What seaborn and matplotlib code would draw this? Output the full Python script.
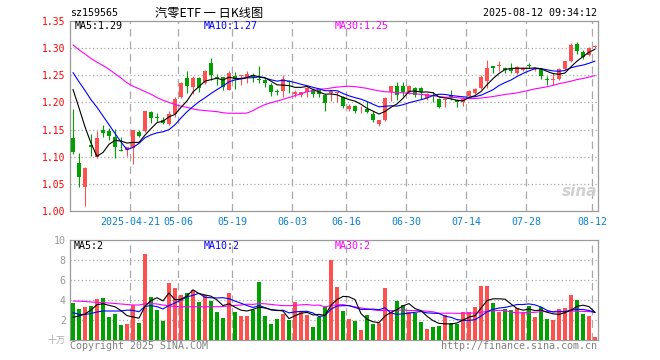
import numpy as np
import pandas as pd
import matplotlib
matplotlib.use("Agg")
import matplotlib.pyplot as plt
import seaborn as sns

# ---------------- data ----------------
open_ = [1.135, 1.089, 1.045, 1.122, 1.099, 1.150, 1.148, 1.136, 1.113, 1.112,
         1.116, 1.146, 1.148, 1.183, 1.173, 1.168, 1.161, 1.179, 1.210, 1.245,
         1.228, 1.245, 1.235, 1.272, 1.246, 1.246, 1.223, 1.248, 1.249, 1.247,
         1.251, 1.243, 1.242, 1.233, 1.2205, 1.221, 1.240, 1.216, 1.214, 1.219,
         1.223, 1.222, 1.214, 1.218, 1.218, 1.210, 1.188, 1.194, 1.191, 1.188,
         1.179, 1.161, 1.167, 1.219, 1.230, 1.230, 1.219, 1.227, 1.227, 1.209,
         1.213, 1.207, 1.2036, 1.2146, 1.204, 1.201, 1.212, 1.218, 1.226, 1.240,
         1.267, 1.268, 1.263, 1.263, 1.254, 1.260, 1.269, 1.262, 1.261, 1.243,
         1.242, 1.243, 1.262, 1.276, 1.308, 1.293, 1.287, 1.302]
high = [1.188, 1.107, 1.081, 1.142, 1.148, 1.159, 1.153, 1.151, 1.136, 1.118,
        1.150, 1.149, 1.185, 1.185, 1.181, 1.173, 1.185, 1.210, 1.237, 1.258,
        1.248, 1.247, 1.259, 1.281, 1.253, 1.247, 1.258, 1.256, 1.251, 1.258,
        1.255, 1.267, 1.245, 1.235, 1.225, 1.250, 1.241, 1.222, 1.220, 1.229,
        1.226, 1.223, 1.216, 1.222, 1.220, 1.211, 1.198, 1.196, 1.194, 1.203,
        1.184, 1.168, 1.210, 1.230, 1.238, 1.238, 1.232, 1.229, 1.229, 1.217,
        1.2195, 1.208, 1.206, 1.2225, 1.207, 1.210, 1.223, 1.226, 1.250, 1.278,
        1.267, 1.276, 1.266, 1.272, 1.268, 1.265, 1.272, 1.266, 1.263, 1.249,
        1.254, 1.263, 1.277, 1.310, 1.312, 1.296, 1.302, 1.305]
low = [1.105, 1.045, 1.010, 1.102, 1.098, 1.137, 1.130, 1.098, 1.110, 1.102,
       1.086, 1.136, 1.146, 1.162, 1.164, 1.160, 1.158, 1.174, 1.209, 1.217,
       1.216, 1.220, 1.234, 1.242, 1.233, 1.222, 1.222, 1.225, 1.232, 1.235,
       1.238, 1.236, 1.229, 1.212, 1.213, 1.210, 1.218, 1.210, 1.210, 1.210,
       1.210, 1.210, 1.185, 1.203, 1.201, 1.189, 1.185, 1.180, 1.180, 1.180,
       1.164, 1.157, 1.166, 1.202, 1.205, 1.212, 1.216, 1.210, 1.207, 1.205,
       1.201, 1.189, 1.192, 1.204, 1.192, 1.194, 1.211, 1.216, 1.224, 1.227,
       1.254, 1.257, 1.255, 1.254, 1.252, 1.258, 1.263, 1.258, 1.243, 1.232,
       1.232, 1.242, 1.260, 1.275, 1.290, 1.280, 1.285, 1.300]
close = [1.108, 1.063, 1.080, 1.118, 1.135, 1.143, 1.138, 1.117, 1.111, 1.117,
         1.149, 1.138, 1.184, 1.171, 1.172, 1.162, 1.178, 1.207, 1.236, 1.231,
         1.245, 1.227, 1.257, 1.250, 1.244, 1.228, 1.254, 1.244, 1.251, 1.253,
         1.247, 1.242, 1.235, 1.219, 1.219, 1.244, 1.238, 1.219, 1.219, 1.227,
         1.216, 1.215, 1.199, 1.221, 1.219, 1.193, 1.194, 1.185, 1.192, 1.182,
         1.167, 1.167, 1.209, 1.230, 1.213, 1.219, 1.230, 1.214, 1.2185, 1.215,
         1.2116, 1.191, 1.2055, 1.210, 1.201, 1.207, 1.221, 1.224, 1.247, 1.264,
         1.263, 1.269, 1.260, 1.257, 1.266, 1.263, 1.268, 1.264, 1.249, 1.242,
         1.243, 1.261, 1.276, 1.306, 1.295, 1.284, 1.301, 1.304]
volume = [3.73, 3.1, 3.3, 3.43, 4.1, 4.2, 2.3, 2.6, 1.5, 1.6,
          3.5, 1.73, 8.6, 4.3, 3.0, 1.93, 5.7, 5.2, 4.5, 4.7,
          5.0, 3.8, 4.5, 3.9, 2.8, 2.2, 4.7, 2.8, 2.4, 2.4,
          3.0, 5.8, 2.4, 1.6, 2.1, 2.6, 2.0, 3.8, 2.9, 2.5,
          1.3, 2.3, 3.3, 8.0, 5.3, 2.9, 2.1, 1.9, 1.0, 2.5,
          1.6, 1.7, 5.2, 2.8, 3.9, 3.5, 2.8, 2.7, 1.8, 1.1,
          1.3, 1.4, 2.5, 1.7, 1.6, 2.8, 2.8, 3.3, 5.4, 5.4,
          3.7, 2.8, 3.1, 3.0, 3.2, 2.8, 3.4, 2.3, 3.3, 2.1,
          2.0, 3.1, 3.2, 4.5, 4.0, 2.6, 2.4, 0.3]

# moving-average values at the start of the window (need earlier history)
ma5_head = [1.224, 1.190, 1.155, 1.125]
ma10_head = [1.255, 1.238, 1.222, 1.205, 1.191, 1.175, 1.159, 1.143, 1.127]
ma30_head = [1.306, 1.297, 1.289, 1.281, 1.274, 1.268, 1.261, 1.253, 1.245, 1.236,
             1.230, 1.225, 1.220, 1.215, 1.209, 1.204, 1.200, 1.196, 1.193, 1.191,
             1.188, 1.186, 1.185, 1.184, 1.183, 1.181, 1.180, 1.180, 1.180]
vma5_head = [2.27, 2.4, 2.6, 3.0]
vma10_head = [2.75, 2.55, 2.55, 2.65, 2.8, 2.9, 2.9, 2.9, 2.9]
vma30_head = [3.9, 3.88, 3.85, 3.8, 3.77, 3.73, 3.7, 3.65, 3.6, 3.55,
              3.5, 3.5, 3.62, 3.65, 3.6, 3.5, 3.4, 3.35, 3.33, 3.33,
              3.33, 3.33, 3.33, 3.33, 3.33, 3.35, 3.4, 3.45, 3.5]

start_date = "2025-04-07"
end_date = "2025-08-12"
holidays = ["2025-05-01", "2025-05-02", "2025-05-05", "2025-06-02"]
tick_dates = ["2025-04-21", "2025-05-06", "2025-05-19", "2025-06-03", "2025-06-16",
              "2025-06-30", "2025-07-14", "2025-07-28", "2025-08-12"]
tick_labels = ["2025-04-21", "05-06", "05-19", "06-03", "06-16",
               "06-30", "07-14", "07-28", "08-12"]
price_ticks = [1.00, 1.05, 1.10, 1.15, 1.20, 1.25, 1.30, 1.35]
vol_ticks = [2, 4, 6, 8, 10]

symbol = "sz159565"
title = "汽零ETF 一 日K线图"
timestamp = "2025-08-12 09:34:12"
price_ma_labels = ["MA5:1.29", "MA10:1.27", "MA30:1.25"]
vol_ma_labels = ["MA5:2", "MA10:2", "MA30:2"]
vol_unit = "十万"

# ---------------- derived ----------------
dates = pd.bdate_range(start_date, end_date)
dates = dates[~dates.isin(pd.to_datetime(holidays))]
n = len(close)
idx = np.arange(n)
o = np.array(open_); h = np.array(high); l = np.array(low); c = np.array(close)
v = np.array(volume)
cs = pd.Series(c); vs = pd.Series(v)


def ma(series, w, head):
    m = series.rolling(w).mean().to_numpy()
    m[:len(head)] = head
    return m


ma5 = ma(cs, 5, ma5_head); ma10 = ma(cs, 10, ma10_head); ma30 = ma(cs, 30, ma30_head)
vma5 = ma(vs, 5, vma5_head); vma10 = ma(vs, 10, vma10_head); vma30 = ma(vs, 30, vma30_head)
tick_idx = [dates.get_loc(pd.Timestamp(d)) for d in tick_dates]

RED = "#ff5050"
GREEN = "#00a000"
GRID = "#aaaaaa"
FRAME = "#9a9a9a"
BLUE = "#0000ff"
MAG = "#ff00ff"
TICKBLUE = "#0a82cc"
up = c >= o
colors = np.where(up, RED, GREEN)

# ---------------- figure ----------------
sns.set_theme(style="white")
plt.rcParams["font.family"] = ["DejaVu Sans Mono", "Noto Sans CJK SC"]
W, H = 660, 360
fig = plt.figure(figsize=(W / 100, H / 100), dpi=100)


def rect(lft, top, rgt, bot):
    return [lft / W, 1 - bot / H, (rgt - lft) / W, (bot - top) / H]


ax = fig.add_axes(rect(70, 21, 598, 211))
axv = fig.add_axes(rect(70, 240, 598, 340))

# candles
ax.vlines(idx, l, h, colors=colors, lw=0.8, zorder=3)
body_lo = np.minimum(o, c)
body_h = np.maximum(np.abs(c - o), 0.0009)
ax.bar(idx, body_h, bottom=body_lo, width=0.75, color=colors, linewidth=0, zorder=4)

# price MAs
sns.lineplot(x=idx, y=ma30, ax=ax, color=MAG, linewidth=0.8, zorder=5)
sns.lineplot(x=idx, y=ma10, ax=ax, color=BLUE, linewidth=0.8, zorder=5)
sns.lineplot(x=idx, y=ma5, ax=ax, color="black", linewidth=0.8, zorder=6)

# volume
vdf = pd.DataFrame({"i": idx, "vol": v, "dir": np.where(up, "up", "down")})
sns.barplot(data=vdf, x="i", y="vol", hue="dir", palette={"up": RED, "down": GREEN},
            dodge=False, legend=False, width=0.83, saturation=1, ax=axv,
            native_scale=True, linewidth=0, zorder=3)
sns.lineplot(x=idx, y=vma30, ax=axv, color=MAG, linewidth=0.8, zorder=5)
sns.lineplot(x=idx, y=vma10, ax=axv, color=BLUE, linewidth=0.8, zorder=5)
sns.lineplot(x=idx, y=vma5, ax=axv, color="black", linewidth=0.8, zorder=6)

for a in (ax, axv):
    a.set_xlim(-0.5, n - 0.5)
    a.set_xlabel(""); a.set_ylabel("")
    for s in a.spines.values():
        s.set_color(FRAME); s.set_linewidth(0.9); s.set_visible(True)
    a.tick_params(length=0)
    for t in tick_idx:
        a.axvline(t - 0.5, color=GRID, lw=0.9, ls=(0, (6, 4)), zorder=1)

ax.set_ylim(1.00, 1.35)
ax.set_yticks(price_ticks)
ax.set_yticklabels([f"{p:.2f}" for p in price_ticks], color="#ff0000", fontsize=7)
ax.tick_params(axis="y", pad=3)
for p in price_ticks[1:-1]:
    ax.axhline(p, color=GRID, lw=0.9, ls=(0, (1, 2)), zorder=1)
ax.set_xticks([t - 0.5 for t in tick_idx])
ax.set_xticklabels(tick_labels, color=TICKBLUE, fontsize=7.2)
ax.tick_params(axis="x", pad=4)

axv.set_ylim(0, 10)
axv.set_yticks(vol_ticks)
axv.set_yticklabels([str(t) for t in vol_ticks], color="#999999", fontsize=7.2)
axv.tick_params(axis="y", pad=3)
for t in vol_ticks[:-1]:
    axv.axhline(t, color=GRID, lw=0.9, ls=(0, (1, 2)), zorder=1)
axv.set_xticks([])


def ftext(x, y, s, **kw):
    fig.text(x / W, 1 - y / H, s, **kw)


ftext(70, 13, symbol, fontsize=7.2, color="black", va="center", ha="left")
ftext(209, 13, title, fontsize=8.8, color="black", va="center", ha="center",
      family=["Noto Sans CJK SC", "DejaVu Sans Mono"])
ftext(597, 13, timestamp, fontsize=7.2, color="black", va="center", ha="right")
for xpos, s, col in zip([75, 204, 335], price_ma_labels, ["black", BLUE, MAG]):
    ftext(xpos, 26, s, fontsize=7.2, color=col, va="center", ha="left")
for xpos, s, col in zip([74, 204, 335], vol_ma_labels, ["black", BLUE, MAG]):
    ftext(xpos, 246, s, fontsize=7.2, color=col, va="center", ha="left")
ftext(66, 340, vol_unit, fontsize=6.5, color="#aaaaaa", va="center", ha="right",
      style="italic", family=["Noto Sans CJK SC", "DejaVu Sans"])
ftext(70, 346, "Copyright 2025 SINA.COM", fontsize=7.2, color="#808080", va="center", ha="left")
ftext(597, 346, "http://finance.sina.com.cn", fontsize=7.2, color="#808080", va="center", ha="right")
ftext(580, 191, "sina", fontsize=11, color="#d0d0d0", va="center", ha="center",
      style="italic", weight="bold", family=["DejaVu Sans"])

fig.savefig("out.png", dpi=100)
